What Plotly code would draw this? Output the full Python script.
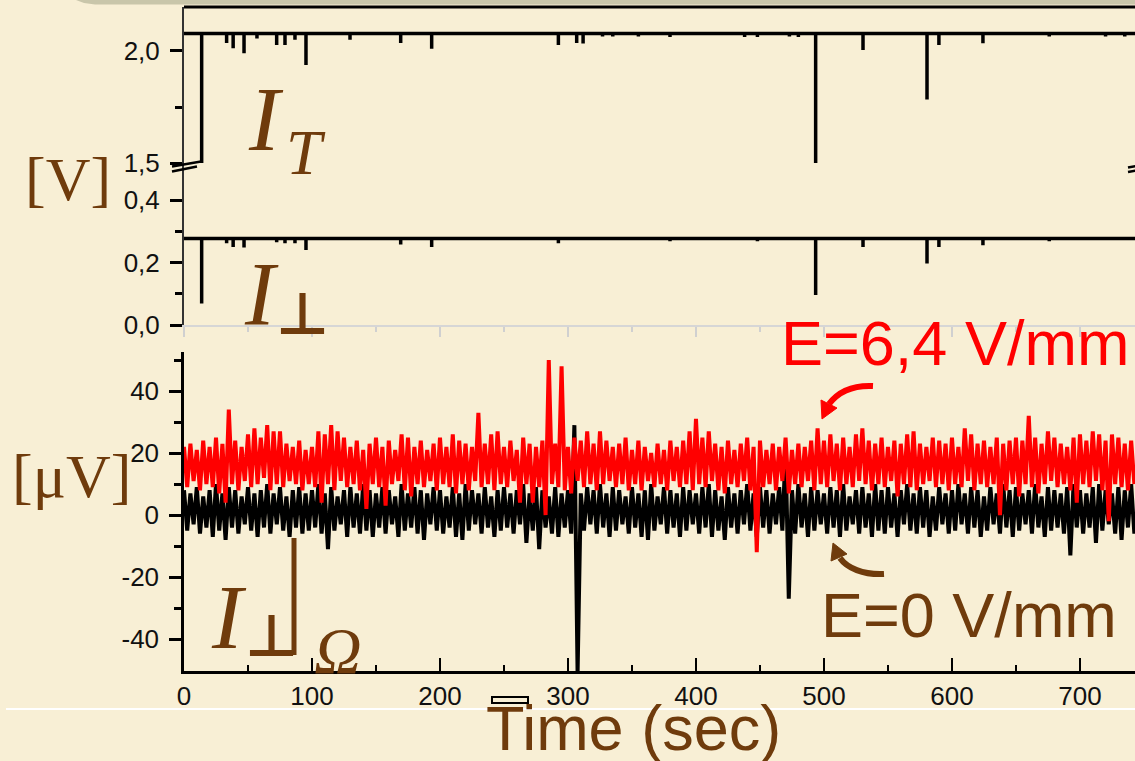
import plotly.graph_objects as go

BG = "#F8EFD5"
BROWN = "#6F3B0C"
RED = "#FF0000"
TICKC = "#111111"

# ---------------- data ----------------
# I_T trace (V): baseline level and downward spikes (time s, value V)
IT_base = 2.078
IT_spike_t = [13.8, 33.3, 38.4, 46.9, 57.0, 72.4, 78.9, 86.7, 95.3, 129.7, 169.3, 193.5,
              292.5, 306.8, 311.8, 327.0, 335.0, 355.0, 379.7, 438.0, 448.0, 473.0, 480.0,
              493.5, 530.5, 580.5, 589.8, 624.2, 676.0, 720.0, 735.0]
IT_spike_v = [1.50, 2.035, 2.012, 1.990, 2.055, 2.026, 2.026, 2.050, 1.937, 2.050, 2.035, 2.010,
              2.027, 2.035, 2.033, 2.064, 2.064, 2.064, 2.062, 2.062, 2.062, 2.064, 2.062,
              1.50, 2.004, 1.784, 2.027, 2.034, 2.064, 2.065, 2.065]

# I_perp trace (V)
IP_base = 0.277
IP_spike_t = [13.8, 33.3, 38.4, 46.9, 72.4, 78.9, 86.7, 95.3, 169.3, 193.5, 292.5, 379.7,
              448.0, 493.5, 530.5, 580.5, 589.8, 624.2, 676.0]
IP_spike_v = [0.069, 0.262, 0.250, 0.248, 0.265, 0.262, 0.262, 0.240, 0.258, 0.250, 0.262, 0.268,
              0.268, 0.096, 0.250, 0.197, 0.250, 0.255, 0.268]

# I_perp_Omega (uV): upper / lower envelope of the noise per 5 s bin
bin_t = list(range(0, 745, 5))
red_hi = [22, 23, 21, 24, 22, 25, 23, 34, 24, 22,
          26, 28, 25, 29, 27, 27, 23, 22, 24, 21,
          22, 27, 26, 29, 27, 25, 22, 24, 21, 23,
          25, 22, 24, 21, 26, 25, 22, 24, 21, 23,
          25, 22, 26, 24, 23, 22, 33, 23, 26, 27,
          22, 24, 21, 25, 23, 22, 24, 50, 23, 48,
          22, 25, 24, 27, 23, 27, 24, 22, 23, 25,
          21, 24, 22, 20, 23, 21, 24, 22, 24, 27,
          31, 25, 27, 23, 22, 24, 21, 23, 25, 22,
          24, 21, 23, 22, 25, 21, 23, 22, 24, 28,
          24, 26, 23, 25, 22, 26, 28, 24, 23, 25,
          22, 24, 23, 26, 27, 23, 22, 25, 24, 23,
          25, 22, 28, 26, 23, 24, 22, 25, 23, 24,
          25, 24, 32, 25, 23, 27, 25, 23, 22, 25,
          26, 24, 27, 26, 24, 26, 25, 23, 24]
red_lo = [9, 11, 8, 10, 9, 7, 4, 10, 8, 11,
          9, 10, 12, 8, 10, 9, 11, 10, 8, 10,
          9, 4, 10, 8, 11, 9, 10, 8, 2, 10,
          9, 3, 10, 11, 8, 6, 10, 9, 11, 8,
          10, 9, 7, 10, 8, 11, 9, 10, 8, 10,
          9, 11, 4, 10, 4, 9, 0, 10, 9, 8,
          7, 11, 9, 10, 8, 10, 11, 9, 10, 8,
          10, 8, 11, 9, 10, 8, 11, 9, 10, 8,
          10, 9, 11, 8, 7, 10, 9, 11, 8, -12,
          9, 10, 8, 11, 7, 10, 9, 11, 8, 10,
          9, 11, 8, 10, 9, 11, 10, 8, 10, 9,
          11, 6, 10, 9, 8, 10, 11, 9, 10, 8,
          10, 9, 11, 8, 10, 9, 10, 0, 8, 10,
          6, 10, 9, 7, 10, 11, 9, 10, 8, 4,
          10, 9, 11, 8, -2, 10, 9, 8, 10]
blk_hi = [8, 7, 9, 6, 8, 10, 7, 9, 8, 6,
          9, 7, 8, 10, 7, 9, 6, 8, 9, 7,
          8, 10, 7, 9, 6, 8, 9, 7, 10, 8,
          7, 9, 8, 6, 10, 7, 9, 8, 7, 9,
          8, 6, 9, 7, 10, 8, 7, 9, 6, 8,
          9, 7, 8, 10, 7, 9, 8, 6, 9, 7,
          8, 29, 7, 9, 8, 10, 7, 9, 8, 6,
          9, 7, 8, 10, 6, 9, 8, 7, 9, 8,
          7, 9, 10, 8, 6, 9, 7, 8, 10, 7,
          9, 8, 7, 9, 21, 8, 10, 7, 9, 8,
          7, 9, 8, 10, 6, 8, 9, 7, 10, 8,
          9, 7, 8, 10, 7, 9, 8, 6, 9, 7,
          8, 10, 7, 9, 8, 6, 9, 7, 10, 8,
          9, 7, 8, 10, 6, 9, 8, 7, 9, 10,
          8, 7, 9, 10, 8, 7, 9, 8, 10]
blk_lo = [-5, -3, -6, -4, -7, -5, -8, -4, -6, -3,
          -5, -7, -4, -6, -3, -5, -7, -4, -6, -5,
          -4, -6, -11, -5, -3, -7, -4, -6, -5, -7,
          -4, -6, -3, -7, -5, -4, -6, -8, -3, -5,
          -6, -4, -7, -8, -5, -3, -6, -4, -7, -5,
          -4, -6, -3, -9, -5, -11, -4, -6, -7, -4,
          -6, -51, -5, -3, -6, -4, -7, -5, -3, -6,
          -4, -7, -8, -5, -3, -6, -4, -7, -5, -3,
          -6, -4, -7, -5, -8, -4, -6, -3, -5, -7,
          -4, -6, -3, -5, -27, -6, -4, -7, -5, -3,
          -6, -4, -7, -5, -3, -6, -4, -7, -5, -6,
          -4, -7, -3, -5, -6, -4, -7, -5, -3, -6,
          -5, -3, -6, -4, -7, -5, -3, -6, -4, -7,
          -5, -3, -6, -4, -7, -5, -4, -6, -13, -4,
          -6, -4, -9, -5, -3, -6, -8, -4, -6]

x_ticks = [0, 100, 200, 300, 400, 500, 600, 700]
x_minor = [50, 150, 250, 350, 450, 550, 650]
IT_ticks = [1.5, 2.0]
IT_text = ["1,5", "2,0"]
IP_ticks = [0.0, 0.2, 0.4]
IP_text = ["0,0", "0,2", "0,4"]
uv_ticks = [-40, -20, 0, 20, 40]
uv_text = ["-40", "-20", "0", "20", "40"]
uv_minor = [-30, -10, 10, 30, 50]

T_END = 743


def spike_series(base, st, sv, t_end):
    xs, ys = [0.0], [base]
    for t, v in zip(st, sv):
        xs += [t, t, t]
        ys += [base, v, base]
    xs.append(t_end)
    ys.append(base)
    return xs, ys


def band_series(tb, hi, lo, half=2.5):
    xs, ys = [], []
    for t, h, l in zip(tb, hi, lo):
        xs += [t, t + half]
        ys += [h, l]
    return xs, ys


# ---------------- layout helpers (pixel -> paper) ----------------
W, H = 1135, 761
PL, PR, PT, PB = 184, 1135, 7, 671


def fx(px):
    return (px - PL) / (PR - PL)


def fy(py):
    return (PB - py) / (PB - PT)


def path(points, close=False):
    s = "M " + " L ".join(f"{fx(x):.5f},{fy(y):.5f}" for x, y in points)
    return s + (" Z" if close else "")


def curve(p0, c1, c2, p1):
    return (f"M {fx(p0[0]):.5f},{fy(p0[1]):.5f} C {fx(c1[0]):.5f},{fy(c1[1]):.5f} "
            f"{fx(c2[0]):.5f},{fy(c2[1]):.5f} {fx(p1[0]):.5f},{fy(p1[1]):.5f}")


fig = go.Figure()

x1, y1 = spike_series(IT_base, IT_spike_t, IT_spike_v, T_END)
fig.add_trace(go.Scatter(x=x1, y=y1, xaxis="x2", yaxis="y2", mode="lines",
                         line=dict(color="black", width=3.5)))
x2, y2 = spike_series(IP_base, IP_spike_t, IP_spike_v, T_END)
fig.add_trace(go.Scatter(x=x2, y=y2, xaxis="x2", yaxis="y3", mode="lines",
                         line=dict(color="black", width=3.5)))
xb, yb = band_series(bin_t, blk_hi, blk_lo)
fig.add_trace(go.Scatter(x=xb, y=yb, xaxis="x", yaxis="y", mode="lines",
                         line=dict(color="black", width=4)))
xr, yr = band_series(bin_t, red_hi, red_lo)
fig.add_trace(go.Scatter(x=xr, y=yr, xaxis="x", yaxis="y", mode="lines",
                         line=dict(color=RED, width=4)))

tickfont = dict(family="Liberation Sans", size=26, color=TICKC)

fig.update_layout(
    width=W, height=H,
    margin=dict(l=PL, r=W - PR, t=PT, b=H - PB, pad=0),
    paper_bgcolor=BG, plot_bgcolor=BG,
    showlegend=False, hovermode=False,
    xaxis=dict(domain=[0, 1], anchor="y", range=[0, T_END], showgrid=False, zeroline=False,
               showline=True, linecolor="black", linewidth=3,
               ticks="inside", ticklen=13, tickwidth=2, tickcolor="black",
               tickmode="array", tickvals=x_ticks, tickfont=tickfont, ticklabelstandoff=0,
               minor=dict(ticks="inside", ticklen=6, tickwidth=2, tickcolor="black",
                          tickmode="array", tickvals=x_minor)),
    xaxis2=dict(domain=[0, 1], anchor="y3", matches="x", range=[0, T_END], showgrid=False,
                zeroline=False, showline=True, linecolor="#D6D6D6", linewidth=2,
                ticks="outside", ticklen=10, tickwidth=2, tickcolor="#D0D0D0",
                tickmode="array", tickvals=x_ticks, showticklabels=False,
                minor=dict(ticks="outside", ticklen=5, tickwidth=2, tickcolor="#D0D0D0",
                           tickmode="array", tickvals=x_minor)),
    yaxis=dict(domain=[0, fy(352)], anchor="x", range=[-50.3, 52.6], showgrid=False,
               zeroline=False, showline=True, linecolor="black", linewidth=2.5,
               ticks="outside", ticklen=12, tickwidth=2.5, tickcolor="black",
               tickmode="array", tickvals=uv_ticks, ticktext=uv_text, tickfont=tickfont,
               ticklabelstandoff=5,
               minor=dict(ticks="outside", ticklen=7, tickwidth=2.5, tickcolor="black",
                          tickmode="array", tickvals=uv_minor)),
    yaxis2=dict(domain=[fy(166), 1], anchor="x2", range=[1.487, 2.196], showgrid=False,
                zeroline=False, showline=True, linecolor="#333", linewidth=2,
                ticks="outside", ticklen=12, tickwidth=2.5, tickcolor="black",
                tickmode="array", tickvals=IT_ticks, ticktext=IT_text, tickfont=tickfont,
                ticklabelstandoff=5,
                minor=dict(ticks="outside", ticklen=7, tickwidth=2.5, tickcolor="black",
                           tickmode="array", tickvals=[1.75])),
    yaxis3=dict(domain=[fy(325), fy(166)], anchor="x2", range=[0, 0.509], showgrid=False,
                zeroline=False, showline=True, linecolor="#333", linewidth=2,
                ticks="outside", ticklen=12, tickwidth=2.5, tickcolor="black",
                tickmode="array", tickvals=IP_ticks, ticktext=IP_text, tickfont=tickfont,
                ticklabelstandoff=5,
                minor=dict(ticks="outside", ticklen=7, tickwidth=2.5, tickcolor="black",
                           tickmode="array", tickvals=[0.1, 0.3])),
)

shapes = [
    # slide band at top
    dict(type="path", xref="paper", yref="paper",
         path=path([(76, 0), (1140, 0), (1140, 4.5), (95, 4.5), (84, 3)], close=True),
         fillcolor="#C9C6AA", line=dict(width=0)),
    # frame line on top of upper panel
    dict(type="line", xref="paper", yref="paper", x0=0, x1=1, y0=1, y1=1,
         line=dict(color="black", width=3)),
    # axis break marks (left and right)
    dict(type="path", xref="paper", yref="paper", path=path([(172, 166.5), (201, 161.5)]),
         line=dict(color="black", width=2.5)),
    dict(type="path", xref="paper", yref="paper", path=path([(172, 171.5), (197, 166.5)]),
         line=dict(color="black", width=2.5)),
    dict(type="path", xref="paper", yref="paper", path=path([(1128, 167.5), (1136, 166)]),
         line=dict(color="black", width=2.5)),
    dict(type="path", xref="paper", yref="paper", path=path([(1128, 172), (1136, 170.5)]),
         line=dict(color="black", width=2.5)),
    # white line near the bottom
    dict(type="line", xref="paper", yref="paper", x0=fx(6), x1=fx(1140), y0=fy(709), y1=fy(709),
         line=dict(color="white", width=2)),
    # small mark above the axis title
    dict(type="rect", xref="paper", yref="paper", x0=fx(492), x1=fx(528), y0=fy(703), y1=fy(697),
         line=dict(color="black", width=2), fillcolor="rgba(0,0,0,0)"),
    # vertical stroke of the I_perp|_Omega symbol
    dict(type="line", xref="paper", yref="paper", x0=fx(294), x1=fx(294), y0=fy(538), y1=fy(655),
         line=dict(color=BROWN, width=5)),
    # red curved arrow
    dict(type="path", xref="paper", yref="paper",
         path=curve((873, 386), (852, 385), (838, 392), (829, 404)),
         line=dict(color=RED, width=6)),
    dict(type="path", xref="paper", yref="paper",
         path=path([(822, 419), (837, 408), (821, 400)], close=True),
         fillcolor=RED, line=dict(color=RED, width=1)),
    # brown curved arrow
    dict(type="path", xref="paper", yref="paper",
         path=curve((884, 574), (863, 575), (847, 568), (840, 558)),
         line=dict(color=BROWN, width=6)),
    dict(type="path", xref="paper", yref="paper",
         path=path([(833, 543), (847, 554), (831, 561)], close=True),
         fillcolor=BROWN, line=dict(color=BROWN, width=1)),
]
fig.update_layout(shapes=shapes)


def ann(text, px, py, size, color, family, xanchor="center"):
    return dict(text=text, xref="paper", yref="paper", x=fx(px), y=fy(py),
                xanchor=xanchor, yanchor="middle", showarrow=False,
                font=dict(family=family, size=size, color=color))


SERIF = "Liberation Serif"
SANS = "Liberation Sans"
annotations = [
    ann("[V]", 68, 179, 62, BROWN, SERIF),
    ann("[\u03bcV]", 71, 476, 62, BROWN, SERIF),
    ann("<i>I</i>", 246, 119, 92, BROWN, SERIF, "left"),
    ann("<i>T</i>", 284, 153, 64, BROWN, SERIF, "left"),
    ann("<i>I</i>", 242, 295, 90, BROWN, SERIF, "left"),
    ann("<b>\u22a5</b>", 302.5, 314, 58, BROWN, "DejaVu Sans"),
    ann("<i>I</i>", 209, 617, 92, BROWN, SERIF, "left"),
    ann("<b>\u22a5</b>", 271, 636, 58, BROWN, "DejaVu Sans"),
    ann("<i>\u03a9</i>", 338, 650, 66, BROWN, SERIF),
    ann("Time (sec)", 633, 728, 63, BROWN, SANS),
    ann("E=6,4 V/mm", 955, 343, 63, RED, SANS),
    ann("E=0 V/mm", 969, 615, 63, BROWN, SANS),
]
fig.update_layout(annotations=annotations)

fig.write_html("out.html", config={"displayModeBar": False},
               post_script="document.body.style.margin='0';")
